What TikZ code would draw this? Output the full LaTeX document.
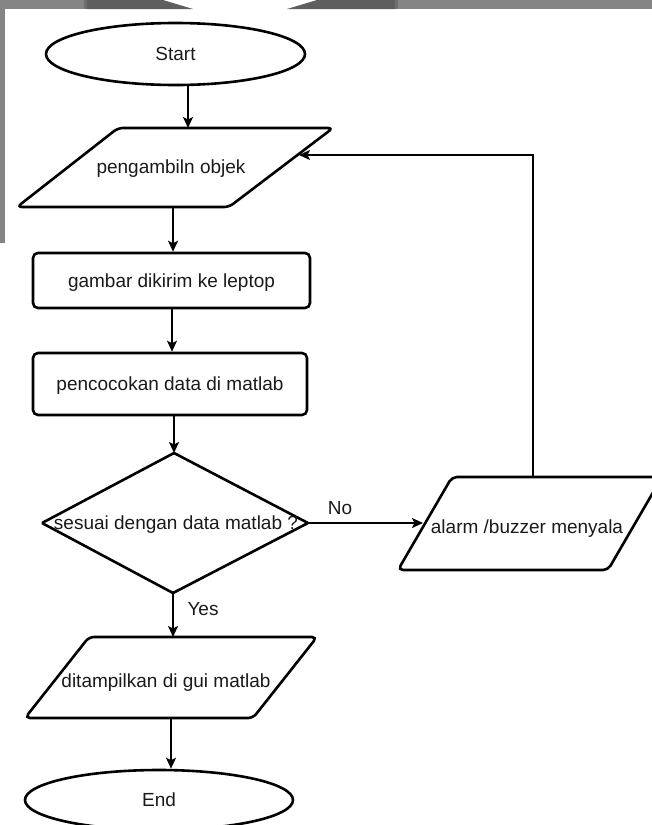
\documentclass[tikz,border=0pt]{standalone}
\usepackage{fontspec}
\setmainfont{Liberation Sans}
\usetikzlibrary{arrows.meta,shapes.geometric}
\definecolor{grayA}{HTML}{858585}
\definecolor{grayB}{HTML}{5E5E5E}
\definecolor{grayC}{HTML}{6E6E6E}
\definecolor{inkc}{HTML}{1A1A1A}
\begin{document}
\begin{tikzpicture}[x=1pt,y=-1pt,
  txt/.style={font=\fontsize{19}{22}\selectfont, text=inkc, text height=13.6pt, text depth=0pt, inner sep=0pt},
  flowshape/.style={draw=black, line width=2.6pt, rounded corners=5pt, fill=white},
  terminal/.style={draw=black, ellipse, line width=2.6pt, inner sep=0pt, fill=white, txt},
  conn/.style={draw=black, line width=1.8pt, -{Stealth[length=11pt,width=10pt,inset=2.5pt]}}
]
\useasboundingbox (0,0) rectangle (652,825);
\fill[white] (0,0) rectangle (652,825);
\clip (0,0) rectangle (652,825);
% screenshot border
\fill[grayA] (0,0) rectangle (84,9);
\fill[grayC] (84,0) rectangle (87,9);
\fill[grayB] (87,0) -- (163,0) -- (193,9) -- (87,9) -- cycle;
\fill[grayB] (287,9) -- (317,0) -- (395,0) -- (395,9) -- cycle;
\fill[grayC] (395,0) rectangle (398,9);
\fill[grayA] (398,0) rectangle (652,9);
\fill[grayA] (0,0) rectangle (5,243);

% Start
\node[terminal, minimum width=259pt, minimum height=62pt] (start) at (175.5,54) {Start};

% pengambiln objek
\coordinate (p1tl) at (118,128);
\coordinate (p1tr) at (333,128);
\coordinate (p1br) at (229,207);
\coordinate (p1bl) at (17,207);
\draw[flowshape] (p1tl) -- (p1tr) -- (p1br) -- (p1bl) -- cycle;
\node[txt] (p1) at (171,167) {pengambiln objek};
\coordinate (p1in) at (188,128);
\coordinate (p1out) at (173,207);
\coordinate (p1fb) at (299,155);
\draw[conn] (start.south -| p1in) -- (p1in);

% gambar dikirim ke leptop
\node[flowshape, txt, minimum width=277pt, minimum height=55pt] (r1) at (171.5,280.5) {gambar dikirim ke leptop};
\draw[conn] (p1out) -- (p1out |- r1.north);

% pencocokan data di matlab
\node[flowshape, txt, minimum width=274pt, minimum height=62pt] (r2) at (170,384) {pencocokan data di matlab};
\coordinate (r1out) at (172,308);
\draw[conn] (r1out) -- (r1out |- r2.north);

% decision
\coordinate (dT) at (174,453);
\coordinate (dR) at (308,523);
\coordinate (dB) at (173,593);
\coordinate (dL) at (42,523);
\draw[flowshape, rounded corners=1pt] (dT) -- (dR) -- (dB) -- (dL) -- cycle;
\node[txt] (d) at (176,523) {sesuai dengan data matlab ?};
\draw[conn] (r2.south -| dT) -- (dT);

% alarm
\coordinate (atl) at (452,477);
\coordinate (atr) at (662,477);
\coordinate (abr) at (608,570);
\coordinate (abl) at (398,570);
\draw[flowshape] (atl) -- (atr) -- (abr) -- (abl) -- cycle;
\node[txt] (al) at (527,527) {alarm /buzzer menyala};
\coordinate (alin) at (423,523);
\coordinate (altop) at (533,477);
\draw[conn] (dR) -- (alin);
\node[txt] (no) at (340,508) {No};
\draw[conn] (altop) -- (altop |- p1fb) -- (p1fb);

% ditampilkan di gui matlab
\coordinate (p2tl) at (89,637);
\coordinate (p2tr) at (317,637);
\coordinate (p2br) at (253,718);
\coordinate (p2bl) at (25,718);
\draw[flowshape] (p2tl) -- (p2tr) -- (p2br) -- (p2bl) -- cycle;
\node[txt] (p2) at (166,681) {ditampilkan di gui matlab};
\coordinate (p2in) at (173,637);
\coordinate (p2out) at (171,718);
\draw[conn] (dB) -- (p2in);
\node[txt] (yes) at (203,609) {Yes};

% End
\node[terminal, minimum width=268pt, minimum height=60pt] (end) at (159,800) {End};
\draw[conn] (p2out) -- (p2out |- end.north);
\end{tikzpicture}
\end{document}
